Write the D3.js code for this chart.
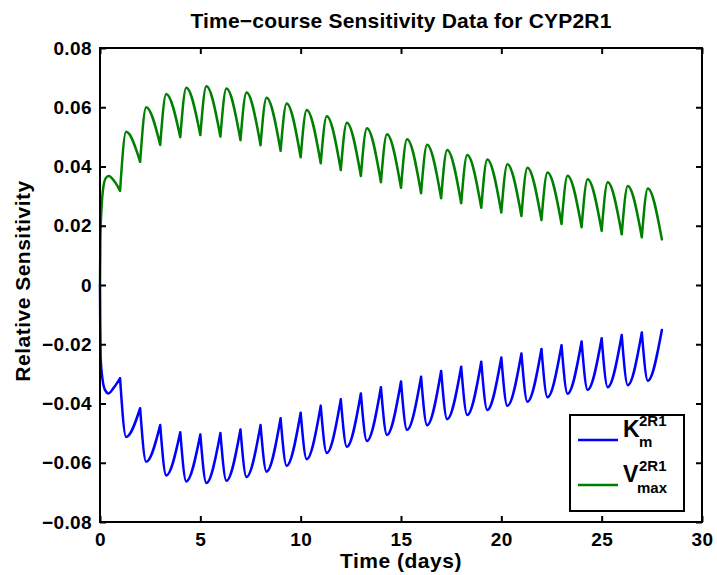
<!DOCTYPE html>
<html><head><meta charset="utf-8">
<script src="https://cdn.jsdelivr.net/npm/d3@7"></script>
<style>body{margin:0;background:#fff}</style>
</head><body>
<svg id="chart" width="717" height="575"></svg>
<script>
// ---------- data ----------
const xTicks = [0, 5, 10, 15, 20, 25, 30];
const yTicks = [-0.08, -0.06, -0.04, -0.02, 0, 0.02, 0.04, 0.06, 0.08];
const yTickLabels = ["\u22120.08", "\u22120.06", "\u22120.04", "\u22120.02", "0", "0.02", "0.04", "0.06", "0.08"];

// dosing days (sharp turning points)
const doseDays = [1,2,3,4,5,6,7,8,9,10,11,12,13,14,15,16,17,18,19,20,21,22,23,24,25,26,27,28];
// lag (days) from dose to the rounded extremum
const extremumLag = 0.3;

// first day (from t = 0 up to the first dose)
const vmaxStart = [[0,0],[0.02,0.016],[0.08,0.0264],[0.17,0.0332],[0.3,0.0362],[0.45,0.0368],[0.6,0.0360],[0.8,0.0342],[1,0.0318]];
const kmStart   = [[0,0],[0.01,-0.012],[0.03,-0.0242],[0.13,-0.032],[0.25,-0.0354],[0.42,-0.0366],[0.66,-0.0349],[1,-0.0315]];

// V_max: values at each dose day (troughs) and at the following peaks
const vmaxAtDose = [0.0318,0.0416,0.0473,0.0499,0.0506,0.0501,0.0489,0.0472,0.0453,0.0431,0.0411,0.0388,0.0368,0.0347,0.0328,0.0310,0.0293,0.0276,0.0261,0.0245,0.0233,0.0219,0.0206,0.0195,0.0183,0.0171,0.0161,0.0154];
const vmaxPeak   = [0.0517,0.0600,0.0645,0.0666,0.0671,0.0663,0.0650,0.0632,0.0613,0.0591,0.0570,0.0548,0.0529,0.0509,0.0492,0.0473,0.0456,0.0439,0.0424,0.0408,0.0396,0.0380,0.0369,0.0357,0.0347,0.0334,0.0326];

// K_m: values at each dose day (peaks) and at the following troughs
const kmAtDose = [-0.0315,-0.0416,-0.0473,-0.0497,-0.0505,-0.0500,-0.0488,-0.0473,-0.0450,-0.0431,-0.0408,-0.0386,-0.0366,-0.0345,-0.0326,-0.0310,-0.0290,-0.0276,-0.0259,-0.0245,-0.0231,-0.0216,-0.0203,-0.0191,-0.0180,-0.0169,-0.0160,-0.0152];
const kmTrough = [-0.0513,-0.0597,-0.0643,-0.0663,-0.0668,-0.0661,-0.0648,-0.0630,-0.0610,-0.0588,-0.0567,-0.0546,-0.0527,-0.0506,-0.0489,-0.0473,-0.0453,-0.0439,-0.0422,-0.0408,-0.0394,-0.0379,-0.0367,-0.0354,-0.0345,-0.0338,-0.0323];

const seriesNames = ["Km", "Vmax"];
const seriesColors = ["#0000ff", "#008000"];
const legendEntries = [
  {base: "K", sup: "2R1", sub: "m"},
  {base: "V", sup: "2R1", sub: "max"}
];
const titleText = "Time\u2212course Sensitivity Data for CYP2R1";
const xLabelText = "Time (days)";
const yLabelText = "Relative Sensitivity";

// ---------- layout ----------
const L = 100, R = 702, T = 48, B = 522;
const FONT = "'Liberation Sans', Arial, Helvetica, sans-serif";

const svg = d3.select("#chart");
const x = d3.scaleLinear().domain([0, 30]).range([L, R]);
const y = d3.scaleLinear().domain([-0.08, 0.08]).range([B, T]);

// build segments: each day between doses is its own smooth piece
function buildSegments(start, atDose, extreme) {
  const segs = [start];
  for (let i = 0; i < extreme.length; i++) {
    segs.push([
      [doseDays[i], atDose[i]],
      [doseDays[i] + extremumLag, extreme[i]],
      [doseDays[i + 1], atDose[i + 1]]
    ]);
  }
  return segs;
}
const allSeries = [
  buildSegments(kmStart, kmAtDose, kmTrough),
  buildSegments(vmaxStart, vmaxAtDose, vmaxPeak)
];

const line = d3.line().x(d => x(d[0])).y(d => y(d[1])).curve(d3.curveMonotoneX);

// data lines
allSeries.forEach((segs, si) => {
  svg.append("path")
    .attr("d", segs.map(s => line(s)).join(""))
    .attr("fill", "none")
    .attr("stroke", seriesColors[si])
    .attr("stroke-width", 2.5)
    .attr("stroke-linejoin", "round")
    .attr("stroke-linecap", "round")
    .attr("class", "series-" + seriesNames[si]);
});

// axes
const tickStyle = g => {
  g.select(".domain").remove();
  g.selectAll(".tick line").attr("stroke", "#000").attr("stroke-width", 2);
  g.selectAll("text").attr("fill", "#000").style("font-family", FONT)
    .style("font-weight", "bold").style("font-size", "19px").style("letter-spacing", "0.4px");
};
svg.append("g").attr("transform", `translate(0,${B})`)
  .call(d3.axisBottom(x).tickValues(xTicks).tickSize(-6).tickPadding(11).tickFormat(d3.format("d")))
  .call(tickStyle);
svg.append("g").attr("transform", `translate(0,${T})`)
  .call(d3.axisTop(x).tickValues(xTicks).tickSize(-6).tickFormat(""))
  .call(tickStyle);
svg.append("g").attr("transform", `translate(${L},0)`)
  .call(d3.axisLeft(y).tickValues(yTicks).tickSize(-6).tickPadding(8).tickFormat((d, i) => yTickLabels[i]))
  .call(tickStyle);
svg.append("g").attr("transform", `translate(${R},0)`)
  .call(d3.axisRight(y).tickValues(yTicks).tickSize(-6).tickFormat(""))
  .call(tickStyle);

// axes box
svg.append("rect").attr("x", L).attr("y", T).attr("width", R - L).attr("height", B - T)
  .attr("fill", "none").attr("stroke", "#000").attr("stroke-width", 2);

// title and labels
svg.append("text").attr("x", (L + R) / 2).attr("y", 28).attr("text-anchor", "middle")
  .style("font-family", FONT).style("font-weight", "bold").style("font-size", "21px")
  .style("letter-spacing", "0.2px").text(titleText);
svg.append("text").attr("x", (L + R) / 2).attr("y", 568).attr("text-anchor", "middle")
  .style("font-family", FONT).style("font-weight", "bold").style("font-size", "21px")
  .style("letter-spacing", "0.5px").text(xLabelText);
svg.append("text").attr("transform", "translate(30,281) rotate(-90)").attr("text-anchor", "middle")
  .style("font-family", FONT).style("font-weight", "bold").style("font-size", "21px")
  .style("letter-spacing", "0.5px").text(yLabelText);

// legend
const lg = svg.append("g");
lg.append("rect").attr("x", 570).attr("y", 415).attr("width", 114).attr("height", 96)
  .attr("fill", "#fff").attr("stroke", "#000").attr("stroke-width", 2);
legendEntries.forEach((e, i) => {
  const cy = 440 + i * 45;
  lg.append("line").attr("x1", 578).attr("x2", 618).attr("y1", cy).attr("y2", cy)
    .attr("stroke", seriesColors[i]).attr("stroke-width", 2.5);
  lg.append("text").attr("x", 623).attr("y", cy - 3)
    .style("font-family", FONT).style("font-weight", "bold").style("font-size", "23px").text(e.base);
  lg.append("text").attr("x", 639).attr("y", cy - 14)
    .style("font-family", FONT).style("font-weight", "bold").style("font-size", "15px").text(e.sup);
  lg.append("text").attr("x", i === 0 ? 639 : 637).attr("y", cy + 7 + i * 1)
    .style("font-family", FONT).style("font-weight", "bold").style("font-size", "15px").text(e.sub);
});
</script>
</body></html>
